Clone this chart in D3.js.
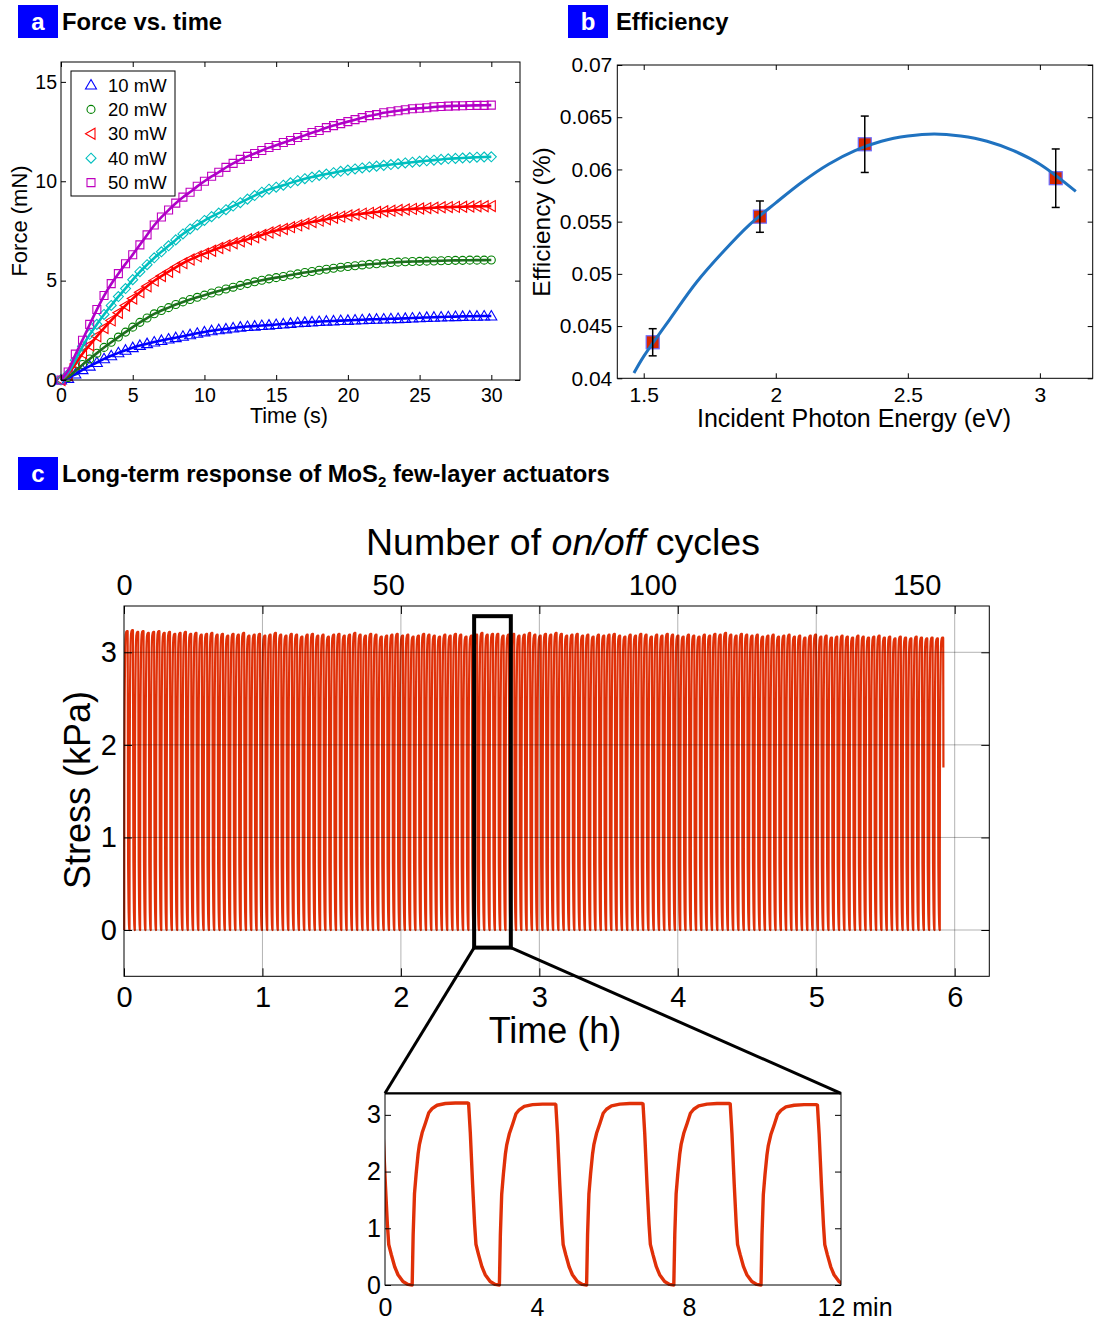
<!DOCTYPE html>
<html>
<head>
<meta charset="utf-8">
<script src="https://cdn.jsdelivr.net/npm/d3@7"></script>
<style>
  body { margin: 0; background: #fff; }
  svg { display: block; }
</style>
</head>
<body>
<svg id="fig" width="1094" height="1320"></svg>
<script>
// ===================== Data =====================

// Panel a: force (mN) sampled every 0.5 s from 0 to 30 s
const sampleStep = 0.5;
const powerLabels = ["10 mW", "20 mW", "30 mW", "40 mW", "50 mW"];
const force10 = [0.0,0.08,0.3,0.52,0.7,0.88,1.07,1.22,1.37,1.5,1.63,1.74,1.83,1.91,1.99,2.06,2.13,2.2,2.28,2.35,2.42,2.48,2.53,2.57,2.62,2.66,2.69,2.71,2.74,2.76,2.79,2.82,2.85,2.88,2.9,2.92,2.94,2.96,2.97,2.99,3.0,3.02,3.03,3.05,3.06,3.07,3.08,3.09,3.1,3.12,3.13,3.15,3.16,3.17,3.18,3.19,3.2,3.21,3.21,3.22,3.22];
const force20 = [0.0,0.12,0.45,0.78,1.06,1.35,1.64,1.9,2.16,2.41,2.66,2.9,3.12,3.33,3.5,3.64,3.8,3.93,4.05,4.16,4.27,4.38,4.48,4.58,4.67,4.76,4.85,4.94,5.02,5.09,5.15,5.21,5.28,5.34,5.41,5.46,5.52,5.57,5.62,5.67,5.71,5.75,5.79,5.82,5.85,5.88,5.91,5.93,5.95,5.96,5.97,5.98,5.99,6.0,6.01,6.02,6.02,6.03,6.03,6.03,6.04];
const force30 = [0.0,0.25,0.8,1.35,1.75,2.2,2.62,3.0,3.38,3.75,4.1,4.42,4.72,5.0,5.23,5.45,5.67,5.88,6.06,6.22,6.36,6.5,6.64,6.77,6.88,6.98,7.08,7.18,7.3,7.42,7.52,7.6,7.69,7.78,7.87,7.95,8.02,8.09,8.16,8.22,8.28,8.33,8.37,8.41,8.45,8.49,8.52,8.55,8.58,8.61,8.63,8.65,8.67,8.69,8.7,8.71,8.72,8.73,8.74,8.74,8.75];
const force40 = [0.0,0.3,1.0,1.7,2.3,2.8,3.3,3.75,4.2,4.6,5.05,5.45,5.8,6.15,6.45,6.75,7.05,7.35,7.6,7.8,8.03,8.22,8.4,8.57,8.75,8.92,9.1,9.28,9.45,9.6,9.7,9.8,9.92,10.03,10.13,10.21,10.29,10.36,10.43,10.5,10.56,10.62,10.67,10.72,10.76,10.8,10.84,10.88,10.92,10.96,11.0,11.03,11.06,11.1,11.13,11.15,11.17,11.19,11.21,11.22,11.23];
const force50 = [0.0,0.4,1.3,2.0,2.8,3.55,4.25,4.85,5.35,5.85,6.3,6.8,7.3,7.8,8.2,8.55,8.9,9.2,9.45,9.75,10.0,10.25,10.45,10.7,10.9,11.1,11.25,11.4,11.55,11.7,11.8,11.95,12.05,12.2,12.3,12.45,12.55,12.7,12.8,12.9,13.0,13.1,13.2,13.3,13.35,13.45,13.5,13.55,13.6,13.65,13.67,13.7,13.74,13.76,13.78,13.79,13.8,13.81,13.82,13.82,13.83];
const forceXTicks = [0, 5, 10, 15, 20, 25, 30];
const forceYTicks = [0, 5, 10, 15];

// Panel b: actuation efficiency vs incident photon energy
const photonEnergy = [1.534, 1.94, 2.337, 3.06];
const efficiency   = [0.04345, 0.05548, 0.06241, 0.05916];
const efficiencyErr = [0.0013, 0.0015, 0.0027, 0.0028];
const fitEnergy = [1.463,1.5,1.6,1.7,1.8,1.9,2.0,2.1,2.2,2.3,2.4,2.5,2.6,2.7,2.8,2.9,3.0,3.136];
const fitEfficiency = [0.0405,0.0421,0.0457,0.0492,0.0521,0.0547,0.0568,0.0588,0.0605,0.0618,0.0627,0.0632,0.0634,0.0632,0.0627,0.0618,0.0605,0.0579];
const energyTicks = [1.5, 2, 2.5, 3];
const efficiencyTicks = [0.04, 0.045, 0.05, 0.055, 0.06, 0.065, 0.07];

// Panel c: one light on/off cycle of the stress response [minutes into cycle, kPa]
const cycleShape = [[0,0],[0.026,0.88],[0.061,1.59],[0.105,1.94],[0.157,2.29],[0.192,2.45],[0.262,2.65],[0.35,2.82],[0.437,3.0],[0.524,3.07],[0.655,3.13],[0.874,3.16],[1.136,3.17],[1.46,3.17],[1.485,3.16],[1.53,2.65],[1.59,1.76],[1.643,1.06],[1.678,0.71],[1.747,0.53],[1.835,0.32],[1.922,0.18],[2.053,0.06],[2.184,0.01]];
const cycleShapePeak = 3.17;
const cyclePeriodMin = 2.295;
const traceOnsetMin = 0.1;
const traceEndMin = 355.15;
// plateau stress of each of the 155 cycles (kPa)
const cyclePeaks = [
  3.23,3.24,3.22,3.23,3.21,3.22,3.23,3.21,3.22,3.20,
  3.21,3.22,3.20,3.21,3.19,3.20,3.21,3.19,3.20,3.18,
  3.20,3.19,3.21,3.18,3.19,3.20,3.18,3.19,3.21,3.19,
  3.18,3.20,3.19,3.17,3.19,3.20,3.18,3.19,3.17,3.19,
  3.20,3.18,3.19,3.21,3.19,3.18,3.20,3.19,3.17,3.18,
  3.19,3.20,3.18,3.19,3.17,3.18,3.20,3.19,3.18,3.17,
  3.19,3.18,3.20,3.19,3.17,3.18,3.19,3.21,3.19,3.20,
  3.20,3.18,3.19,3.20,3.18,3.19,3.21,3.19,3.18,3.20,
  3.19,3.21,3.20,3.18,3.19,3.20,3.18,3.19,3.17,3.19,
  3.18,3.19,3.20,3.18,3.17,3.19,3.18,3.20,3.19,3.17,
  3.19,3.18,3.20,3.19,3.18,3.17,3.19,3.18,3.17,3.19,
  3.18,3.20,3.19,3.21,3.19,3.18,3.20,3.19,3.18,3.19,
  3.17,3.18,3.19,3.17,3.18,3.19,3.17,3.18,3.16,3.18,
  3.19,3.17,3.18,3.16,3.17,3.18,3.17,3.16,3.18,3.17,
  3.16,3.17,3.18,3.16,3.17,3.15,3.17,3.16,3.15,3.17,
  3.16,3.15,3.16,3.15,3.16
];
const hourTicks = [0, 1, 2, 3, 4, 5, 6];
const cycleTicks = [0, 50, 100, 150];
const stressTicks = [0, 1, 2, 3];
const zoomHours = [2.529, 2.794];
const zoomStress = [-0.19, 3.39];
const insetStartMin = 153.15;
const insetTicks = [0, 4, 8, 12];

// ===================== Drawing =====================
const FONT = '"Liberation Sans", Arial, Helvetica, sans-serif';
const svg = d3.select('#fig').attr('font-family', FONT);

function panelTag(x, y, letter, textGap, size) {
  const g = svg.append('g');
  g.append('rect').attr('x', x).attr('y', y).attr('width', 40).attr('height', 33).attr('fill', '#0000ff');
  g.append('text').attr('x', x + 20).attr('y', y + 25).attr('text-anchor', 'middle')
    .attr('fill', '#fff').attr('font-weight', 'bold').attr('font-size', 24).text(letter);
  return g.append('text').attr('x', x + textGap).attr('y', y + 25).attr('font-weight', 'bold')
    .attr('font-size', size).attr('fill', '#000');
}

// inward ticks on every side, labels on bottom and left
function frameAxes(g, x, y, o) {
  const [xa, xb] = x.range(), [yb, ya] = y.range();
  const style = sel => {
    sel.select('.domain').remove();
    sel.attr('font-family', FONT).attr('font-size', o.fs);
    sel.selectAll('text').attr('fill', '#000');
    sel.selectAll('line').attr('stroke', '#000').attr('stroke-width', 1);
  };
  const fmt = d => String(d);
  g.append('g').attr('transform', `translate(0,${yb})`)
    .call(d3.axisBottom(x).tickValues(o.xTicks).tickSize(-o.tick).tickPadding(o.padX).tickFormat(fmt))
    .call(style);
  g.append('g').attr('transform', `translate(0,${ya})`)
    .call(d3.axisTop(x).tickValues(o.xTicks).tickSize(-o.tick).tickFormat(''))
    .call(style);
  g.append('g').attr('transform', `translate(${xa},0)`)
    .call(d3.axisLeft(y).tickValues(o.yTicks).tickSize(-o.tick).tickPadding(o.padY).tickFormat(fmt))
    .call(style);
  g.append('g').attr('transform', `translate(${xb},0)`)
    .call(d3.axisRight(y).tickValues(o.yTicks).tickSize(-o.tick).tickFormat(''))
    .call(style);
  g.append('rect').attr('x', xa).attr('y', ya).attr('width', xb - xa).attr('height', yb - ya)
    .attr('fill', 'none').attr('stroke', '#000').attr('stroke-width', 1);
}

// ---------- Panel a ----------
panelTag(18, 5, 'a', 44, 23.8).text('Force vs. time');

const aX = d3.scaleLinear().domain([0, 32]).range([61, 520]);
const aY = d3.scaleLinear().domain([0, 16]).range([380, 62]);
const gA = svg.append('g');

const markerPath = {
  up: 'M0,-5.5L5.5,4L-5.5,4Z',
  circle: d3.symbol(d3.symbolCircle, 50)(),
  left: 'M-5.5,0L4,-5.5L4,5.5Z',
  diamond: 'M0,-5L5,0L0,5L-5,0Z',
  square: 'M-4,-4H4V4H-4Z'
};
const series = [
  { label: powerLabels[0], values: force10, marker: 'up',      color: '#0000ff', fit: '#0000ff' },
  { label: powerLabels[1], values: force20, marker: 'circle',  color: '#008000', fit: '#1e6e1e' },
  { label: powerLabels[2], values: force30, marker: 'left',    color: '#ff0000', fit: '#ff0000' },
  { label: powerLabels[3], values: force40, marker: 'diamond', color: '#00bfbf', fit: '#00bfbf' },
  { label: powerLabels[4], values: force50, marker: 'square',  color: '#bf00bf', fit: '#b000c8' }
];
const tOf = i => i * sampleStep;
const forceLine = d3.line().x((v, i) => aX(tOf(i))).y(v => aY(v)).curve(d3.curveBasis);

series.forEach(s => {
  gA.append('g').selectAll('path').data(s.values).join('path')
    .attr('d', markerPath[s.marker])
    .attr('transform', (v, i) => `translate(${aX(tOf(i))},${aY(v)})`)
    .attr('fill', 'none').attr('stroke', s.color).attr('stroke-width', 1.1);
});
series.forEach(s => {
  gA.append('path').datum(s.values).attr('d', forceLine)
    .attr('fill', 'none').attr('stroke', s.fit).attr('stroke-width', 2.6);
});

frameAxes(gA, aX, aY, { xTicks: forceXTicks, yTicks: forceYTicks, tick: 5, fs: 19.5, padX: 8, padY: 4 });
gA.append('text').attr('x', 289).attr('y', 423).attr('text-anchor', 'middle').attr('font-size', 21.5).text('Time (s)');
gA.append('text').attr('transform', 'translate(27,221) rotate(-90)').attr('text-anchor', 'middle').attr('font-size', 22).text('Force (mN)');

// legend
const leg = gA.append('g');
leg.append('rect').attr('x', 71).attr('y', 71).attr('width', 104).attr('height', 125)
  .attr('fill', '#fff').attr('stroke', '#000').attr('stroke-width', 1);
series.forEach((s, i) => {
  const yy = 85 + i * 24.4;
  leg.append('path').attr('d', markerPath[s.marker]).attr('transform', `translate(91,${yy})`)
    .attr('fill', 'none').attr('stroke', s.color).attr('stroke-width', 1.1);
  leg.append('text').attr('x', 108).attr('y', yy).attr('dy', '0.36em').attr('font-size', 18.5).text(s.label);
});

// ---------- Panel b ----------
panelTag(568, 5, 'b', 48, 23.8).text('Efficiency');

const bX = d3.scaleLinear().domain([1.4, 3.2]).range([617.3, 1092.7]);
const bY = d3.scaleLinear().domain([0.04, 0.07]).range([378.3, 65]);
const gB = svg.append('g');
const pts = photonEnergy.map((e, i) => ({ e, v: efficiency[i], err: efficiencyErr[i] }));

gB.selectAll('rect.pt').data(pts).join('rect').attr('class', 'pt')
  .attr('x', d => bX(d.e) - 6.5).attr('y', d => bY(d.v) - 6.5).attr('width', 13).attr('height', 13)
  .attr('fill', '#d82800').attr('stroke', '#6a6aff').attr('stroke-width', 1.2);
const fitPts = fitEnergy.map((e, i) => [e, fitEfficiency[i]]);
gB.append('path').datum(fitPts)
  .attr('d', d3.line().x(d => bX(d[0])).y(d => bY(d[1])).curve(d3.curveCatmullRom.alpha(0.5)))
  .attr('fill', 'none').attr('stroke', '#1f72c0').attr('stroke-width', 3);
const eb = gB.selectAll('g.eb').data(pts).join('g').attr('class', 'eb')
  .attr('stroke', '#000').attr('stroke-width', 1.5);
eb.append('line').attr('x1', d => bX(d.e)).attr('x2', d => bX(d.e))
  .attr('y1', d => bY(d.v - d.err)).attr('y2', d => bY(d.v + d.err));
eb.append('line').attr('x1', d => bX(d.e) - 4).attr('x2', d => bX(d.e) + 4)
  .attr('y1', d => bY(d.v + d.err)).attr('y2', d => bY(d.v + d.err));
eb.append('line').attr('x1', d => bX(d.e) - 4).attr('x2', d => bX(d.e) + 4)
  .attr('y1', d => bY(d.v - d.err)).attr('y2', d => bY(d.v - d.err));

frameAxes(gB, bX, bY, { xTicks: energyTicks, yTicks: efficiencyTicks, tick: 5, fs: 21, padX: 9, padY: 5 });
gB.append('text').attr('x', 854).attr('y', 427).attr('text-anchor', 'middle').attr('font-size', 25).text('Incident Photon Energy (eV)');
gB.append('text').attr('transform', 'translate(550,222) rotate(-90)').attr('text-anchor', 'middle').attr('font-size', 24.5).text('Efficiency (%)');

// ---------- Panel c ----------
const tc = panelTag(18, 457, 'c', 44, 23.8);
tc.append('tspan').text('Long-term response of MoS');
tc.append('tspan').attr('font-size', 15).attr('dy', 5).text('2');
tc.append('tspan').attr('dy', -5).text(' few-layer actuators');

const cX = d3.scaleLinear().domain([0, 6.25]).range([124, 989.3]);
const cCycles = d3.scaleLinear().domain([0, 163.75]).range([124, 989.3]);
const cY = d3.scaleLinear().domain([-0.5, 3.5]).range([976.3, 606]);
const gC = svg.append('g');

// continuous stress trace built from the per-cycle plateaus and the cycle waveform
const trace = [];
cyclePeaks.forEach((peak, k) => {
  const start = traceOnsetMin + k * cyclePeriodMin;
  cycleShape.forEach(([m, s]) => {
    const t = start + m;
    if (t <= traceEndMin) trace.push({ min: t, kPa: s * peak / cycleShapePeak });
  });
});

gC.append('path').datum(trace)
  .attr('d', d3.line().x(d => cX(d.min / 60)).y(d => cY(d.kPa)))
  .attr('fill', 'none').attr('stroke', '#e03008').attr('stroke-width', 2.2).attr('stroke-linejoin', 'round');

// grid drawn over the trace
const grid = gC.append('g').attr('stroke', '#000').attr('stroke-opacity', 0.3).attr('stroke-width', 1);
grid.selectAll('line.v').data(hourTicks.slice(1)).join('line').attr('class', 'v')
  .attr('x1', d => cX(d)).attr('x2', d => cX(d)).attr('y1', cY.range()[1]).attr('y2', cY.range()[0]);
grid.selectAll('line.h').data(stressTicks).join('line').attr('class', 'h')
  .attr('x1', cX.range()[0]).attr('x2', cX.range()[1]).attr('y1', d => cY(d)).attr('y2', d => cY(d));

frameAxes(gC, cX, cY, { xTicks: hourTicks, yTicks: stressTicks, tick: 8, fs: 29, padX: 10, padY: 7 });
// cycle count along the top edge
gC.append('g').attr('transform', `translate(0,${cY.range()[1]})`)
  .call(d3.axisTop(cCycles).tickValues(cycleTicks).tickSize(0).tickPadding(11).tickFormat(d => String(d)))
  .call(sel => { sel.select('.domain').remove(); sel.attr('font-family', FONT).attr('font-size', 29); sel.selectAll('text').attr('fill', '#000'); });

const topTitle = gC.append('text').attr('x', 563).attr('y', 555).attr('text-anchor', 'middle').attr('font-size', 37.5);
topTitle.append('tspan').text('Number of ');
topTitle.append('tspan').attr('font-style', 'italic').text('on/off');
topTitle.append('tspan').text(' cycles');
gC.append('text').attr('x', 555).attr('y', 1043).attr('text-anchor', 'middle').attr('font-size', 36).text('Time (h)');
gC.append('text').attr('transform', 'translate(90,790) rotate(-90)').attr('text-anchor', 'middle').attr('font-size', 36).text('Stress (kPa)');

// inset: 12-minute window of the same trace
const iX = d3.scaleLinear().domain([0, 12]).range([385, 841]);
const iY = d3.scaleLinear().domain([0, 3.38]).range([1285, 1093.3]);
const gI = svg.append('g');

// highlight box and connectors
gC.append('rect')
  .attr('x', cX(zoomHours[0])).attr('y', cY(zoomStress[1]))
  .attr('width', cX(zoomHours[1]) - cX(zoomHours[0])).attr('height', cY(zoomStress[0]) - cY(zoomStress[1]))
  .attr('fill', 'none').attr('stroke', '#000').attr('stroke-width', 4);
gC.append('line').attr('x1', cX(zoomHours[0])).attr('y1', cY(zoomStress[0]))
  .attr('x2', iX(0)).attr('y2', iY(3.38)).attr('stroke', '#000').attr('stroke-width', 3);
gC.append('line').attr('x1', cX(zoomHours[1])).attr('y1', cY(zoomStress[0]))
  .attr('x2', iX(12)).attr('y2', iY(3.38)).attr('stroke', '#000').attr('stroke-width', 3);

svg.append('defs').append('clipPath').attr('id', 'insetClip').append('rect')
  .attr('x', iX(0)).attr('y', iY(3.38) - 4).attr('width', iX(12) - iX(0)).attr('height', iY(0) - iY(3.38) + 8);
const windowPts = trace.filter((d, i) => {
  const prev = trace[i - 1], next = trace[i + 1];
  const inWin = m => m >= insetStartMin && m <= insetStartMin + 12;
  return inWin(d.min) || (next && inWin(next.min)) || (prev && inWin(prev.min));
});
gI.append('path').datum(windowPts).attr('clip-path', 'url(#insetClip)')
  .attr('d', d3.line().x(d => iX(d.min - insetStartMin)).y(d => iY(d.kPa)))
  .attr('fill', 'none').attr('stroke', '#e03008').attr('stroke-width', 3.4).attr('stroke-linejoin', 'round');

const insetStyle = sel => {
  sel.select('.domain').remove();
  sel.attr('font-family', FONT).attr('font-size', 25);
  sel.selectAll('text').attr('fill', '#000');
  sel.selectAll('line').attr('stroke', '#000');
};
gI.append('g').attr('transform', `translate(0,${iY(0)})`)
  .call(d3.axisBottom(iX).tickValues(insetTicks).tickSize(0).tickPadding(13).tickFormat(d => d === 12 ? '12 min' : String(d)))
  .call(insetStyle)
  .call(sel => sel.selectAll('text').filter(d => d === 12).attr('text-anchor', 'start').attr('dx', -24));
gI.append('g').attr('transform', `translate(${iX(0)},0)`)
  .call(d3.axisLeft(iY).tickValues(stressTicks).tickSize(-6).tickPadding(4).tickFormat(d => String(d)))
  .call(insetStyle);
gI.append('g').attr('transform', `translate(${iX(12)},0)`)
  .call(d3.axisRight(iY).tickValues(stressTicks).tickSize(-6).tickFormat(''))
  .call(insetStyle);
gI.append('rect').attr('x', iX(0)).attr('y', iY(3.38)).attr('width', iX(12) - iX(0)).attr('height', iY(0) - iY(3.38))
  .attr('fill', 'none').attr('stroke', '#000').attr('stroke-width', 1);
gI.append('line').attr('x1', iX(0)).attr('x2', iX(12)).attr('y1', iY(3.38)).attr('y2', iY(3.38))
  .attr('stroke', '#000').attr('stroke-width', 2.2);
</script>
</body>
</html>
